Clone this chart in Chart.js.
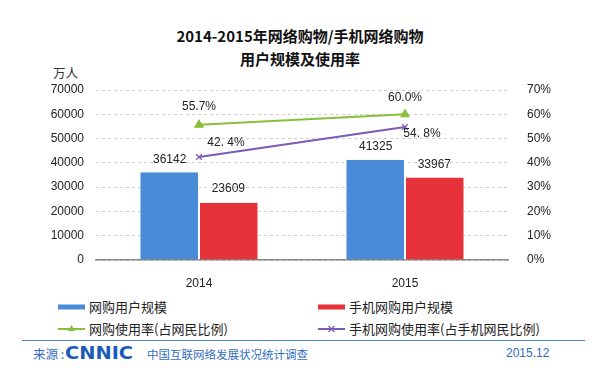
<!DOCTYPE html>
<html>
<head>
<meta charset="utf-8">
<script src="https://cdn.jsdelivr.net/npm/chart.js@4/dist/chart.umd.min.js"></script>
<style>
  html, body { margin: 0; padding: 0; }
  body {
    width: 600px; height: 377px; overflow: hidden; background: #fff; position: relative;
    font-family: "Liberation Sans", "Noto Sans CJK SC", sans-serif; color: #222;
  }
  #title {
    position: absolute; left: 0; top: 25px; width: 600px; text-align: center;
    font: bold 15px/22.5px "Noto Sans CJK SC", sans-serif; color: #111;
  }
  #unit { position: absolute; left: 53px; top: 65px; font: 12.5px/16px "Noto Sans CJK SC", sans-serif; color: #333; }
  #wrap { position: absolute; left: 0; top: 0; width: 600px; height: 290px; }
  .lg { position: absolute; font: 13px/16px "Noto Sans CJK SC", sans-serif; color: #222; }
  .lg svg { position: absolute; left: 0; top: 0; }
  .lg span { position: absolute; left: 31px; top: 0; white-space: nowrap; }
  #rule { position: absolute; left: 22px; top: 340px; width: 563px; border-top: 1.5px solid #4a86d0; }
  .ft { position: absolute; color: #2f6cc0; white-space: nowrap; }
  #logo { transform: scaleX(1.14); transform-origin: 0 50%; }
</style>
</head>
<body>
<div id="title">2014-2015年网络购物/手机网络购物<br>用户规模及使用率</div>
<div id="unit">万人</div>
<div id="wrap"><canvas id="chart"></canvas></div>

<div class="lg" style="left:58px; top:299px; width:260px; height:16px;">
  <svg width="28" height="16"><rect x="0" y="5.5" width="27" height="5" fill="#4a8bd8"/></svg>
  <span>网购用户规模</span>
</div>
<div class="lg" style="left:318px; top:299px; width:260px; height:16px;">
  <svg width="28" height="16"><rect x="0" y="5.5" width="27" height="5" fill="#e8323a"/></svg>
  <span>手机网购用户规模</span>
</div>
<div class="lg" style="left:58px; top:321px; width:260px; height:16px;">
  <svg width="28" height="16"><line x1="0" y1="8" x2="27" y2="8" stroke="#86bf3a" stroke-width="2"/><path d="M13.5 4 L17 10 L10 10 Z" fill="#86bf3a"/></svg>
  <span>网购使用率(占网民比例)</span>
</div>
<div class="lg" style="left:318px; top:321px; width:280px; height:16px;">
  <svg width="28" height="16"><line x1="0" y1="8" x2="27" y2="8" stroke="#7a5bb5" stroke-width="2"/><path d="M10.5 5 L16.5 11 M16.5 5 L10.5 11" stroke="#7a5bb5" stroke-width="1.2"/></svg>
  <span>手机网购使用率(占手机网民比例)</span>
</div>

<div id="rule"></div>
<div class="ft" style="left:33px; top:346px; font:12.5px/16px 'Noto Sans CJK SC', sans-serif;">来源 :</div>
<div class="ft" id="logo" style="left:65px; top:343px; font:bold 17px/20px 'DejaVu Sans', sans-serif; color:#1a5cb8;">CNNIC</div>
<div class="ft" style="left:147px; top:346px; font:11.5px/16px 'Noto Sans CJK SC', sans-serif;">中国互联网络发展状况统计调查</div>
<div class="ft" style="left:506px; top:345px; font:12px/16px 'Liberation Sans', sans-serif;">2015.12</div>

<script>
// categories and series
const years = ['2014', '2015'];
const shoppers = [36142, 41325];          // 网购用户规模 (万人)
const mobileShoppers = [23609, 33967];    // 手机网购用户规模 (万人)
const shopRate = [55.7, 60.0];            // 网购使用率 %
const mobileRate = [42.4, 54.8];          // 手机网购使用率 %
const shopRateLabels = ['55.7%', '60.0%'];
const mobileRateLabels = ['42. 4%', '54. 8%'];
const leftTicks = [0, 10000, 20000, 30000, 40000, 50000, 60000, 70000];

// value labels drawn next to each mark
const valueLabels = {
  id: 'valueLabels',
  afterDatasetsDraw(chart) {
    const ctx = chart.ctx;
    ctx.save();
    ctx.font = '12px "Liberation Sans", sans-serif';
    ctx.fillStyle = '#222';
    ctx.textAlign = 'center';
    ctx.textBaseline = 'middle';
    chart.data.datasets.forEach((ds, di) => {
      const meta = chart.getDatasetMeta(di);
      meta.data.forEach((el, i) => {
        const text = ds.labels ? ds.labels[i] : String(ds.data[i]);
        const off = ds.labelOffsets ? ds.labelOffsets[i] : [0, -13];
        ctx.fillText(text, el.x + off[0], el.y + off[1]);
      });
    });
    ctx.restore();
  }
};

new Chart(document.getElementById('chart'), {
  type: 'bar',
  data: {
    labels: years,
    datasets: [
      {
        type: 'line', label: '网购使用率(占网民比例)', data: shopRate, labels: shopRateLabels,
        labelOffsets: [[0, -18], [0, -17]],
        yAxisID: 'y1', order: 1,
        borderColor: '#86bf3a', backgroundColor: '#86bf3a', borderWidth: 2,
        pointStyle: 'triangle', pointRadius: 5, pointBorderWidth: 1
      },
      {
        type: 'line', label: '手机网购使用率(占手机网民比例)', data: mobileRate, labels: mobileRateLabels,
        labelOffsets: [[27, -14], [17, 7]],
        yAxisID: 'y1', order: 1,
        borderColor: '#7a5bb5', backgroundColor: '#7a5bb5', borderWidth: 2,
        pointStyle: 'crossRot', pointRadius: 4, pointBorderWidth: 1.3
      },
      {
        label: '网购用户规模', data: shoppers, yAxisID: 'y', order: 2,
        backgroundColor: '#4a8bd8', borderColor: '#ffffff', borderWidth: {left: 0, right: 1, top: 0, bottom: 0},
        labelOffsets: [[0, -13], [0, -13]],
        categoryPercentage: 0.57, barPercentage: 1.0
      },
      {
        label: '手机网购用户规模', data: mobileShoppers, yAxisID: 'y', order: 2,
        backgroundColor: '#e8323a', borderColor: '#ffffff', borderWidth: {left: 1, right: 0, top: 0, bottom: 0},
        labelOffsets: [[0, -14], [0, -13]],
        categoryPercentage: 0.57, barPercentage: 1.0
      }
    ]
  },
  options: {
    responsive: true,
    maintainAspectRatio: false,
    animation: false,
    layout: { padding: { top: 90, left: 0, right: 0, bottom: 0 } },
    plugins: { legend: { display: false }, title: { display: false }, tooltip: { enabled: false } },
    scales: {
      x: {
        afterFit: s => { s.height = 30; },
        grid: { display: false },
        border: { display: true, color: '#888', width: 1.5 },
        ticks: { color: '#222', padding: 8, font: { family: 'Liberation Sans', size: 12 } }
      },
      y: {
        position: 'left', min: 0, max: 70000,
        afterFit: s => { s.width = 96; },
        afterBuildTicks: s => { s.ticks = leftTicks.map(v => ({ value: v })); },
        border: { display: false, dash: [3, 3] },
        grid: { color: '#cfcfcf', lineWidth: 1, drawTicks: false },
        ticks: { color: '#222', padding: 12, font: { family: 'Liberation Sans', size: 12 },
                 callback: v => String(v) }
      },
      y1: {
        position: 'right', min: 0, max: 70,
        afterFit: s => { s.width = 92; },
        border: { display: false },
        grid: { display: false, drawOnChartArea: false },
        ticks: { stepSize: 10, color: '#222', padding: 11, font: { family: 'Liberation Sans', size: 12 },
                 callback: v => v + '%' }
      }
    }
  },
  plugins: [valueLabels]
});
</script>
</body>
</html>
